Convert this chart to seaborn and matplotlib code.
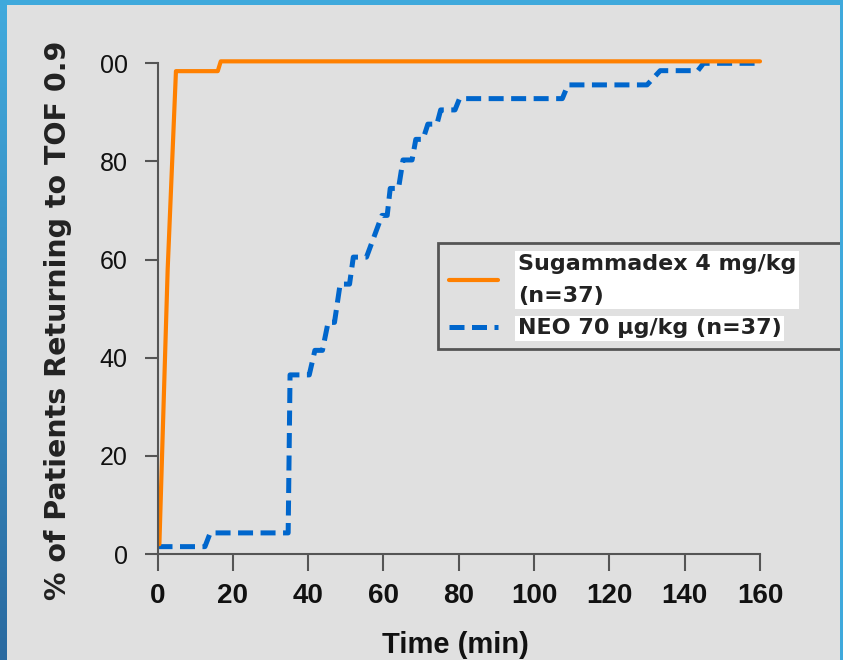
import numpy as np
import pandas as pd
import matplotlib
matplotlib.use("Agg")
import matplotlib.pyplot as plt
import seaborn as sns
from matplotlib.patches import Rectangle
from matplotlib.colors import LinearSegmentedColormap

# ---- data ----
suga_time = [0.5, 2.7, 4.9, 16.0, 16.8, 160.0]
suga_pct = [2.0, 58.0, 98.4, 98.4, 100.4, 100.4]

neo_time = [0, 12.6, 14.0, 34.7, 35.2, 40.3, 41.8, 43.8, 45.3, 47.0, 48.5, 51.0,
            52.0, 55.5, 59.6, 61.0, 61.8, 64.0, 65.2, 67.6, 68.6, 70.5, 71.8,
            74.2, 75.2, 79.0, 80.2, 107.5, 109.0, 130.0, 133.5, 143.5, 145.0, 160.0]
neo_pct = [1.5, 1.5, 4.3, 4.3, 36.5, 36.5, 41.5, 41.5, 47.2, 47.2, 55.0, 55.0,
           60.5, 60.5, 69.0, 69.0, 74.5, 74.5, 80.3, 80.3, 84.5, 84.5, 87.6,
           87.6, 90.5, 90.5, 92.8, 92.8, 95.6, 95.6, 98.5, 98.5, 100.0, 100.0]

x_ticks = [0, 20, 40, 60, 80, 100, 120, 140, 160]
y_ticks = [0, 20, 40, 60, 80, 100]
y_tick_labels = ["0", "20", "40", "60", "80", "00"]
suga_label = "Sugammadex 4 mg/kg\n(n=37)"
neo_label = "NEO 70 \u03bcg/kg (n=37)"
x_title = "Time (min)"
y_title = "% of Patients Returning to TOF 0.9"

BG = "#e0e0e0"
ORANGE = "#ff8000"
BLUE = "#0066cc"
AXC = "#555555"

sns.set_theme(style="ticks")
plt.rcParams['font.family'] = ['DejaVu Sans']

W, H = 843, 660
fig = plt.figure(figsize=(W / 100, H / 100), dpi=100, facecolor=BG)

# decorative slide borders
grad_ax = fig.add_axes([0, 0, 7 / W, 1])
grad_ax.imshow(np.linspace(0, 1, 256).reshape(-1, 1), aspect='auto',
               cmap=LinearSegmentedColormap.from_list("b", ["#41aadd", "#2a6aa0"]))
grad_ax.set_axis_off()
fig.patches.append(Rectangle((0, 1 - 5 / H), 1, 5 / H, transform=fig.transFigure,
                             facecolor="#3fa9dc", edgecolor='none', zorder=10))
fig.patches.append(Rectangle((1 - 3 / W, 0), 3 / W, 1, transform=fig.transFigure,
                             facecolor="#3fa9dc", edgecolor='none', zorder=10))

x0, x1 = 157.5, 760.0
y0, y1 = 554.0, 63.3
ax = fig.add_axes([x0 / W, 1 - y0 / H, (x1 - x0) / W, (y0 - y1) / H])
ax.set_facecolor(BG)

df_s = pd.DataFrame({"t": suga_time, "p": suga_pct})
df_n = pd.DataFrame({"t": neo_time, "p": neo_pct})

sns.lineplot(data=df_n, x="t", y="p", ax=ax, color=BLUE, linewidth=3.6,
             estimator=None, sort=False, linestyle=(0, (3.0, 1.5)),
             dash_capstyle='butt', clip_on=False, label=neo_label)
sns.lineplot(data=df_s, x="t", y="p", ax=ax, color=ORANGE, linewidth=3.0,
             estimator=None, sort=False, clip_on=False, label=suga_label)

ax.set_xlim(0, 160)
ax.set_ylim(0, 100)
ax.set_xticks(x_ticks)
ax.set_xticklabels([str(v) for v in x_ticks], fontfamily='Liberation Sans',
                   fontweight='bold', fontsize=20)
ax.set_yticks(y_ticks)
ax.set_yticklabels(y_tick_labels, fontfamily='Liberation Sans', fontsize=18)

for s in ['top', 'right']:
    ax.spines[s].set_visible(False)
for s in ['left', 'bottom']:
    ax.spines[s].set_color(AXC)
    ax.spines[s].set_linewidth(1.5)
ax.tick_params(axis='y', length=9.5, width=1.5, color=AXC, pad=12, labelcolor='#111111')
ax.tick_params(axis='x', length=12, width=1.5, color=AXC, pad=9, labelcolor='#111111')

ax.set_xlabel(x_title, fontfamily='Liberation Sans', fontweight='bold', fontsize=21,
              color='#111111')
ax.set_ylabel(y_title, fontweight='bold', fontsize=20.5, color='#222222')
ax.xaxis.set_label_coords((455 - x0) / (x1 - x0), -(631 - y0) / (y0 - y1))
ax.yaxis.set_label_coords(-(x0 - 72) / (x1 - x0), (y0 - 320) / (y0 - y1))

h, l = ax.get_legend_handles_labels()
order = [l.index(suga_label), l.index(neo_label)]
leg = ax.legend([h[i] for i in order], [l[i] for i in order], loc='upper left',
                bbox_to_anchor=(438 / W, 1 - 350 / H, (870 - 438) / W, (350 - 243) / H),
                bbox_transform=fig.transFigure, mode='expand', borderaxespad=0,
                frameon=True, fancybox=False, facecolor=BG, edgecolor=AXC,
                framealpha=1, prop=dict(weight='bold', size=16),
                handlelength=2.2, handletextpad=0.9, borderpad=0.5,
                labelspacing=0.55)
leg.get_frame().set_linewidth(2)
for t in leg.get_texts():
    t.set_color('#222222')
    t.set_linespacing(1.75)
    t.set_bbox(dict(facecolor='white', edgecolor='none', pad=2))

fig.savefig("out.png", dpi=100, facecolor=BG)
